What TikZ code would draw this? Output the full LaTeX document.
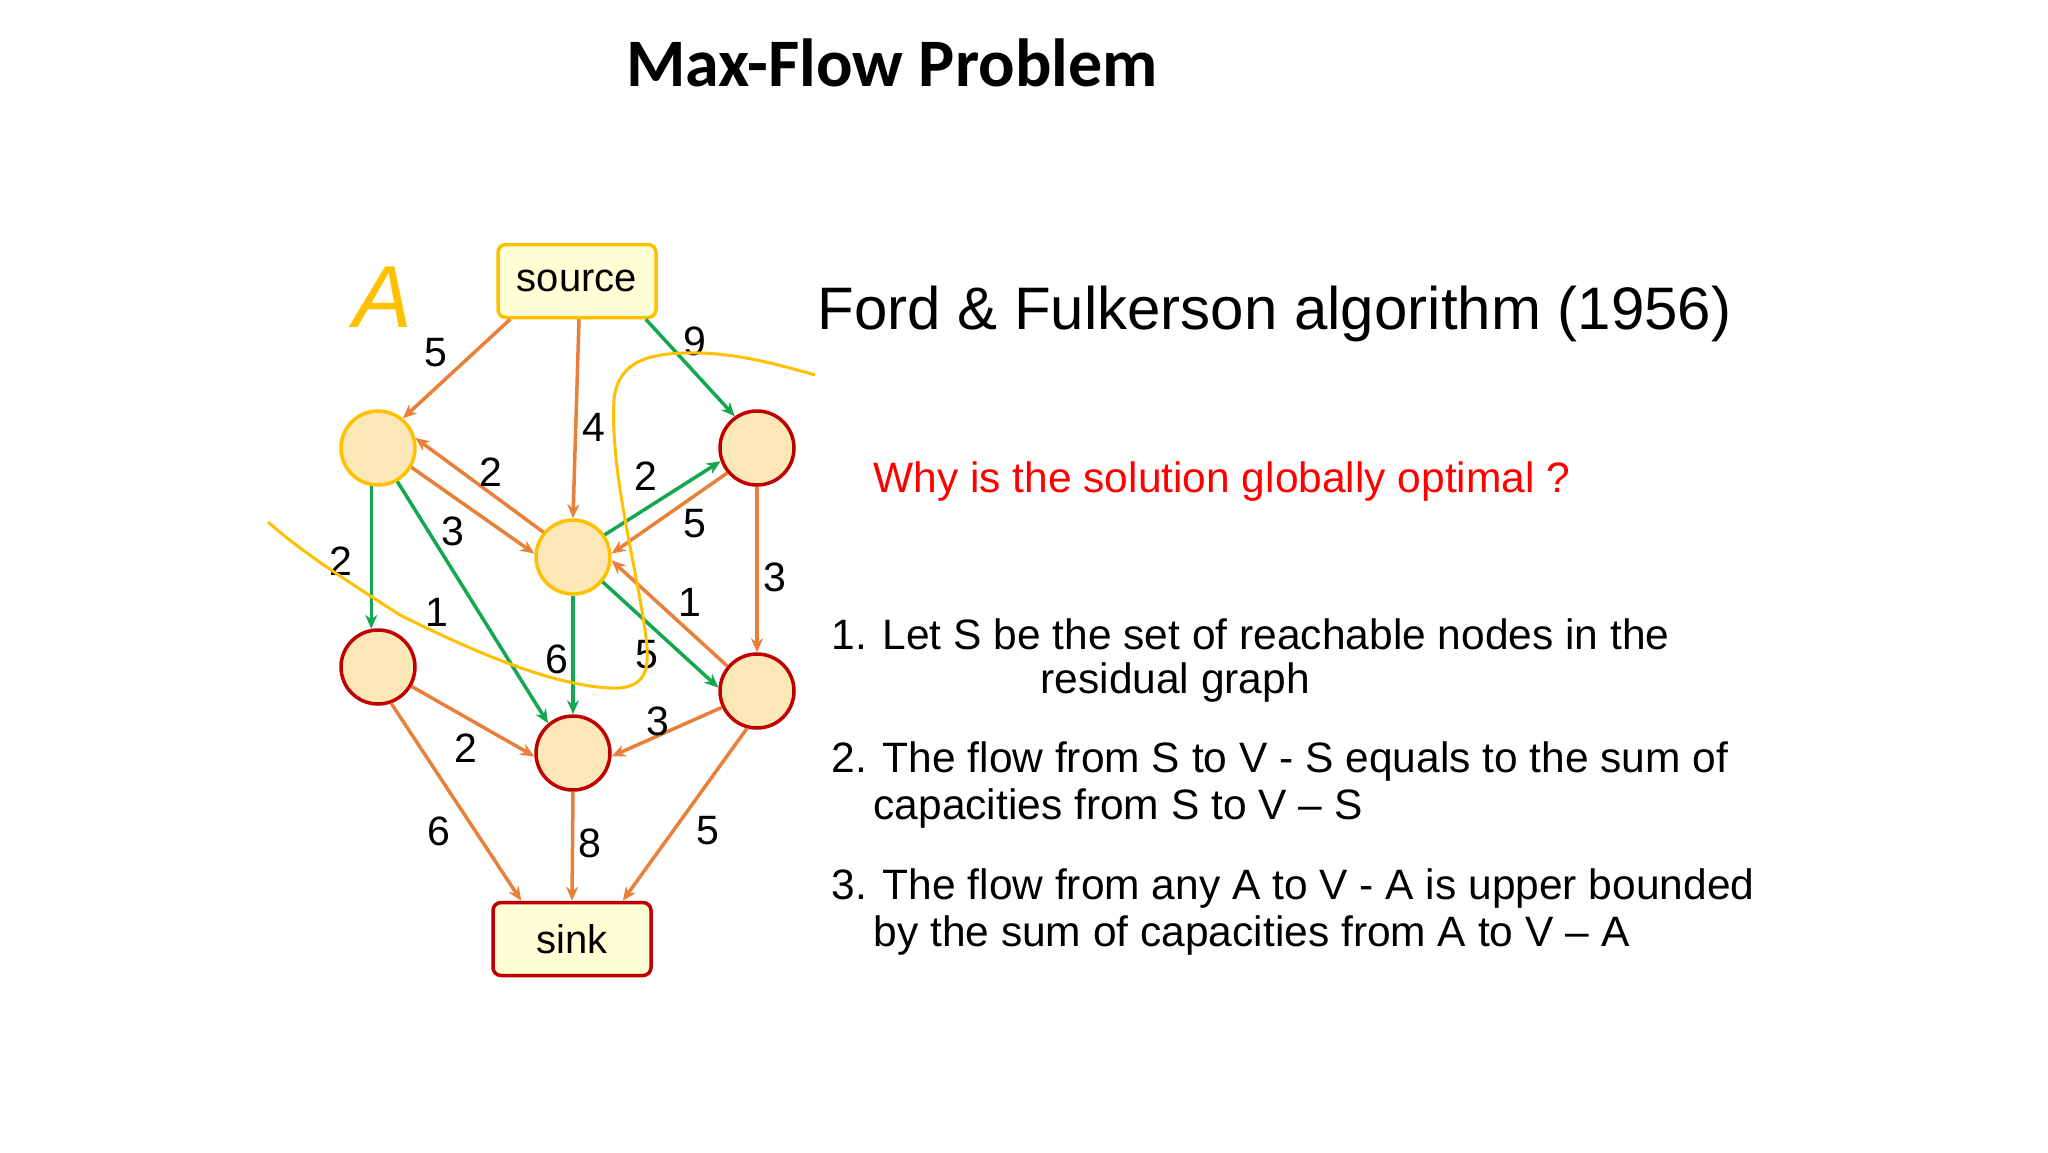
\documentclass[tikz,border=0pt]{standalone}
\usepackage{fontspec}
\setmainfont{Liberation Sans}
\newfontfamily\titlefont{Carlito}
\usetikzlibrary{shapes.geometric,arrows.meta}
\definecolor{eor}{HTML}{E8803A}
\definecolor{egr}{HTML}{12A84F}
\definecolor{nfill}{HTML}{FCE8B6}
\definecolor{ylw}{HTML}{FFC000}
\definecolor{dred}{HTML}{C00000}
\definecolor{bfill}{HTML}{FFFFD6}
\begin{document}
\begin{tikzpicture}[x=1pt,y=-1pt,
 nd/.style={circle,minimum size=74pt,fill=nfill,line width=3.5pt,inner sep=0},
 yn/.style={nd,draw=ylw}, rn/.style={nd,draw=dred},
 box/.style={rounded corners=8pt,fill=bfill,line width=3.5pt,minimum width=158pt,minimum height=73pt,font=\fontsize{40}{42}\selectfont},
 oe/.style={draw=eor,line width=3.5pt,-{Stealth[length=14pt,width=12pt]}},
 ge/.style={draw=egr,line width=3.5pt,-{Stealth[length=14pt,width=12pt]}},
 lb/.style={font=\fontsize{41}{43}\selectfont}]
\useasboundingbox (0,0) rectangle (2048,1152);
\fill[white] (0,0) rectangle (2048,1152);
\node[font=\titlefont\bfseries\fontsize{68}{72}\selectfont] (title) at (892,63) {Max-Flow Problem};
\node[box,draw=ylw] (src) at (577,281) {source};
\node[box,draw=dred] (sink) at (572,939) {sink};
\node[yn] (n1) at (378,448) {};
\node[yn] (n2) at (573,557) {};
\node[rn] (n3) at (757,448) {};
\node[rn] (n4) at (378,667) {};
\node[rn] (n5) at (757,691) {};
\node[rn] (n6) at (573,753) {};
\node[text=ylw,font=\itshape\fontsize{88}{90}\selectfont] (A) at (383,297) {A};
\draw[oe] (src.south west)++(14,0) -- (n1.50);
\draw[oe] (src.south)++(2,0) -- (n2.north);
\draw[ge] (src.south east)++(-12,0) -- (n3.125);
\draw[oe] (n2.140) -- (n1.15);
\draw[oe] (n1.330) -- (n2.175);
\draw[ge] (n2.35) -- (n3.200);
\draw[oe] (n3.220) -- (n2.5);
\draw[ge] (n1.260) -- (n4.100);
\draw[ge] (n1.300) -- (n6.130);
\draw[oe] (n3.south) -- (n5.north);
\draw[oe] (n5.140) -- (n2.355);
\draw[ge] (n2.320) -- (n5.175);
\draw[ge] (n2.south) -- (n6.north);
\draw[oe] (n4.330) -- (n6.185);
\draw[oe] (n5.205) -- (n6.355);
\draw[oe] (n4.290) -- ([xshift=30pt]sink.north west);
\draw[oe] (n6.south) -- (sink.north);
\draw[oe] (n5.255) -- ([xshift=-30pt]sink.north east);
\node[lb] (l1) at (436,353) {5};
\node[lb] (l2) at (594,427) {4};
\node[lb] (l3) at (695,341) {9};
\node[lb] (l4) at (491,472) {2};
\node[lb] (l5) at (453,531) {3};
\node[lb] (l6) at (646,476) {2};
\node[lb] (l7) at (695,524) {5};
\node[lb] (l8) at (341,561) {2};
\node[lb] (l9) at (437,612) {1};
\node[lb] (l10) at (775,577) {3};
\node[lb] (l11) at (690,602) {1};
\node[lb] (l12) at (557,659) {6};
\node[lb] (l13) at (647,655) {5};
\node[lb] (l14) at (658,721) {3};
\node[lb] (l15) at (466,748) {2};
\node[lb] (l16) at (439,831) {6};
\node[lb] (l17) at (590,843) {8};
\node[lb] (l18) at (708,831) {5};
\draw[ylw,line width=3pt] (268,522) .. controls (300,550) and (330,570) .. (400,615)
 .. controls (470,650) and (550,685) .. (610,688)
 .. controls (650,690) and (650,665) .. (645,630)
 .. controls (635,560) and (610,470) .. (614,400)
 .. controls (618,360) and (650,352) .. (700,353)
 .. controls (740,354) and (780,365) .. (815,375);
\node[anchor=west,font=\fontsize{60}{64}\selectfont] (ff) at (814,314) {Ford \& Fulkerson algorithm (1956)};
\node[anchor=west,text=red,font=\fontsize{42.5}{46}\selectfont] (why) at (870,482) {Why is the solution globally optimal ?};
\begin{scope}[every node/.style={anchor=west,font=\fontsize{42.5}{46}\selectfont}]
\node (i1) at (828,634) {1. Let S be the set of reachable nodes in the};
\node (i1b) at (1037,682) {residual graph};
\node (i2) at (828,761) {2. The flow from S to V - S equals to the sum of};
\node (i2b) at (870,808) {capacities from S to V – S};
\node (i3) at (828,888) {3. The flow from any A to V - A is upper bounded};
\node (i3b) at (870,935) {by the sum of capacities from A to V – A};
\end{scope}
\end{tikzpicture}
\end{document}
